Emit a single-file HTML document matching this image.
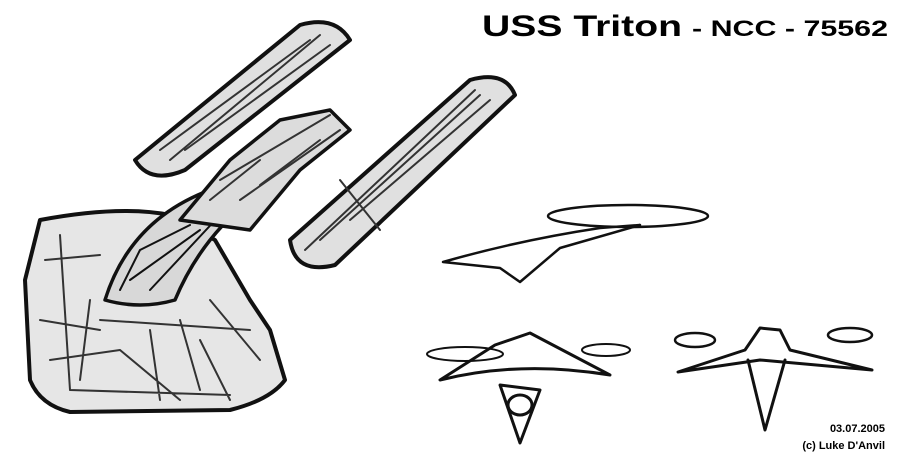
<!DOCTYPE html>
<html><head><meta charset="utf-8"><style>
html,body{margin:0;padding:0;background:#fff;}
svg{display:block}
</style></head><body>
<svg width="914" height="463" viewBox="0 0 914 463" xmlns="http://www.w3.org/2000/svg">
<rect width="914" height="463" fill="#fff"/>
<g fill="none" stroke="#111" stroke-linecap="round" stroke-linejoin="round">
<!-- main hull -->
<path d="M40 220 Q120 205 170 215 L215 240 L250 300 L270 330 L285 380 Q270 400 230 410 L70 412 Q40 405 30 380 L25 280 Z" stroke-width="4" fill="#e6e6e6"/>
<path d="M60 235 L70 390 M110 290 L200 250 M100 320 L250 330 M120 350 L180 400 M200 340 L230 400 M45 260 L100 255 M40 320 L100 330 M50 360 L120 350 M150 330 L160 400 M180 320 L200 390 M210 300 L260 360 M70 390 L230 395 M90 300 L80 380" stroke-width="2" stroke="#333"/>
<path d="M105 300 Q130 220 210 190 L250 200 Q200 240 175 300 Q140 310 105 300Z" stroke-width="3.5" fill="#d8d8d8"/>
<path d="M120 290 L140 250 L190 225 M130 280 L200 230 M150 290 L220 215" stroke-width="2"/>
<!-- neck -->
<path d="M180 220 L230 160 L280 120 L330 110 L350 130 L300 170 L250 230 Z" stroke-width="3.5" fill="#dcdcdc"/>
<path d="M220 180 L330 115 M240 200 L340 130 M210 200 L260 160 M260 185 L320 140" stroke-width="2" stroke="#333"/>
<!-- upper nacelle -->
<path d="M135 160 L300 25 Q335 15 350 40 L185 170 Q150 185 135 160Z" stroke-width="4" fill="#e0e0e0"/>
<path d="M160 150 L310 40 M185 150 L330 45 M170 160 L320 35" stroke-width="2" stroke="#333"/>
<!-- lower nacelle -->
<path d="M290 240 L470 80 Q505 70 515 95 L335 265 Q295 275 290 240Z" stroke-width="4" fill="#e0e0e0"/>
<path d="M320 240 L480 95 M350 220 L490 100 M305 250 L475 90 M340 180 L380 230" stroke-width="2" stroke="#333"/>
<!-- side view -->
<ellipse cx="628" cy="216" rx="80" ry="11" stroke-width="2.5"/>
<path d="M443 262 Q520 240 600 228 L640 225 L560 248 L520 282 L500 268 L443 262Z" stroke-width="2.5"/>
<!-- front view -->
<ellipse cx="465" cy="354" rx="38" ry="7" stroke-width="2"/>
<ellipse cx="606" cy="350" rx="24" ry="6" stroke-width="2"/>
<path d="M440 380 Q520 360 610 375 L530 333 L495 345 Z" stroke-width="3"/>
<path d="M500 385 L520 443 L540 390 Z" stroke-width="3"/>
<ellipse cx="520" cy="405" rx="12" ry="10" stroke-width="3"/>
<!-- rear view -->
<ellipse cx="695" cy="340" rx="20" ry="7" stroke-width="2.5"/>
<ellipse cx="850" cy="335" rx="22" ry="7" stroke-width="2.5"/>
<path d="M678 372 L760 360 L872 370 L790 350 L780 330 L760 328 L745 350 Z" stroke-width="3"/>
<path d="M748 360 L765 430 L785 360" stroke-width="3"/>
</g>
<text x="482" y="36" font-family="Liberation Sans, sans-serif" font-weight="900" font-size="30" fill="#000" textLength="200" lengthAdjust="spacingAndGlyphs">USS Triton</text>
<text x="692" y="36" font-family="Liberation Sans, sans-serif" font-weight="900" font-size="22" fill="#000" textLength="196" lengthAdjust="spacingAndGlyphs">- NCC - 75562</text>
<text x="885" y="432" text-anchor="end" font-family="Liberation Sans, sans-serif" font-weight="bold" font-size="11" fill="#000">03.07.2005</text>
<text x="885" y="449" text-anchor="end" font-family="Liberation Sans, sans-serif" font-weight="bold" font-size="11" fill="#000">(c) Luke D'Anvil</text>
</svg>
</body></html>
